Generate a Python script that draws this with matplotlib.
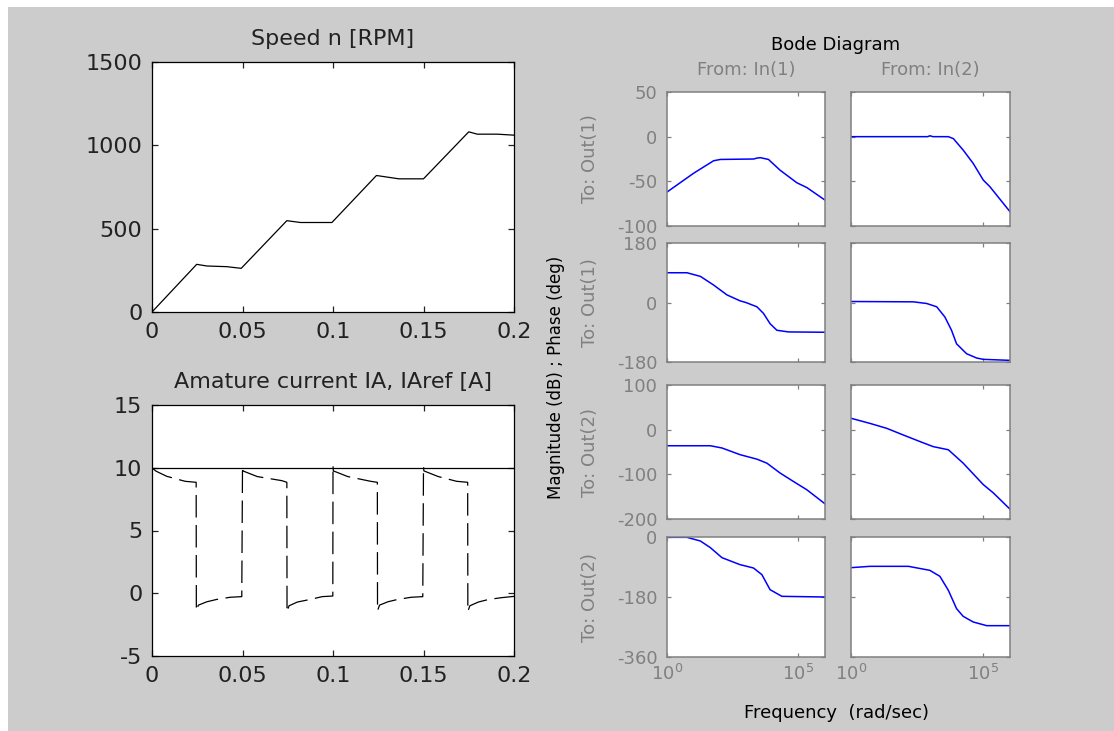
import numpy as np
import matplotlib
matplotlib.use("Agg")
import matplotlib.pyplot as plt
from matplotlib.patches import Rectangle

plt.rcParams['font.family'] = ['DejaVu Sans']
plt.rcParams['mathtext.fontset'] = 'dejavusans'
plt.rcParams['axes.unicode_minus'] = False

# ---------------- data ----------------
# Speed n [RPM]
t_speed = [0, 0.0247, 0.0303, 0.0413, 0.0493, 0.0745, 0.082, 0.0994,
           0.124, 0.1364, 0.15, 0.175, 0.1797, 0.1908, 0.2]
speed = [0, 286, 276, 272, 262, 548, 537, 537,
         819, 799, 799, 1081, 1067, 1067, 1061]

# Armature current IA (dashed) and reference IAref (solid)
t_ia = [0.0, 0.0022, 0.0081, 0.0183, 0.0244, 0.0245, 0.0256, 0.0303, 0.0358, 0.0432, 0.0496, 0.05,
        0.0502, 0.0581, 0.0718, 0.0745, 0.0746, 0.0757, 0.0803, 0.0875, 0.094, 0.0999, 0.1,
        0.1002, 0.1081, 0.1208, 0.1245, 0.1246, 0.1257, 0.1303, 0.1358, 0.1432, 0.1496, 0.15,
        0.1502, 0.1581, 0.1683, 0.1744, 0.1745, 0.1756, 0.1803, 0.1858, 0.1932, 0.2]
ia = [10.0, 9.73, 9.32, 8.92, 8.84, -1.4, -0.95, -0.68, -0.49, -0.32, -0.27, 10.1,
      9.75, 9.3, 8.97, 8.84, -1.5, -1.0, -0.7, -0.49, -0.27, -0.22, 10.2,
      9.75, 9.3, 8.92, 8.84, -1.4, -0.95, -0.68, -0.49, -0.32, -0.27, 10.1,
      9.75, 9.3, 8.92, 8.84, -1.45, -1.0, -0.7, -0.5, -0.35, -0.25]
t_iaref = [0.0, 0.2]
iaref = [10, 10]

# Bode diagram (frequency exponents log10(w) and values)
w_mag11 = [0, 1.01, 1.77, 2.03, 3.3, 3.42, 3.55, 3.86, 4.3, 4.94, 5.32, 6.01]
mag11 = [-62, -41, -27, -25.5, -25, -24, -23.5, -25.5, -37.5, -51.6, -57, -71]
w_mag12 = [0, 2.9, 2.98, 3.1, 3.68, 3.87, 4.24, 4.62, 5.0, 5.25, 6.01]
mag12 = [0, 0, 1, 0, 0, -2.2, -15, -30, -48.6, -56, -84]
w_ph11 = [0, 0.76, 1.27, 1.77, 2.28, 2.78, 3.0, 3.42, 3.67, 3.92, 4.18, 4.62, 6.01]
ph11 = [90, 90, 79, 53, 23, 5, 0, -13, -33, -64, -84, -89, -90]
w_ph12 = [0, 2.36, 2.86, 3.24, 3.55, 3.80, 3.99, 4.37, 4.75, 5.0, 6.01]
ph12 = [3, 2, -3, -13, -44, -84, -125, -155, -168, -172, -175]
w_mag21 = [0, 1.65, 2.09, 2.78, 3.42, 3.8, 4.3, 4.81, 5.32, 6.01]
mag21 = [-36, -36, -41, -56, -66, -75, -97, -116, -134.6, -166]
w_mag22 = [0, 0.72, 1.35, 1.98, 2.61, 3.11, 3.68, 4.24, 5.0, 5.38, 6.01]
mag22 = [25.5, 14, 3, -12, -26.7, -38, -45, -75, -123, -141.6, -178]
w_ph21 = [0, 0.76, 1.27, 1.65, 2.09, 2.78, 3.29, 3.61, 3.92, 4.37, 6.01]
ph21 = [-1, -1, -12, -32, -62, -83, -93, -113, -158, -178, -180]
w_ph22 = [0, 0.72, 2.17, 2.98, 3.36, 3.68, 3.99, 4.24, 4.62, 5.13, 6.01]
ph22 = [-92, -88, -88, -100, -118, -160, -215, -238, -255, -266, -266]

speed_yticks = [0, 500, 1000, 1500]
current_yticks = [-5, 0, 5, 10, 15]
time_ticks = [0, 0.05, 0.1, 0.15, 0.2]
time_ticklabels = ['0', '0.05', '0.1', '0.15', '0.2']
mag1_ticks = [-100, -50, 0, 50]
ph1_ticks = [-180, 0, 180]
mag2_ticks = [-200, -100, 0, 100]
ph2_ticks = [-360, -180, 0]
freq_ticks = [1, 1e5]
freq_ticklabels = [r'$10^{0}$', r'$10^{5}$']
col_titles = ['From: In(1)', 'From: In(2)']
row_labels = ['To: Out(1)', 'To: Out(1)', 'To: Out(2)', 'To: Out(2)']

# ---------------- figure ----------------
W, H = 1114, 731
fig = plt.figure(figsize=(W / 100, H / 100), dpi=100, facecolor='white')
fig.patches.append(Rectangle((8 / W, 0), 1 - 8 / W, 1 - 7 / H, transform=fig.transFigure,
                             facecolor='#cccccc', edgecolor='none', zorder=-10))


def px_axes(l, t, r, b):
    return fig.add_axes([l / W, 1 - b / H, (r - l) / W, (b - t) / H])


GRAY = '#808080'
TXT = '#222222'


def style_left(ax):
    for s in ax.spines.values():
        s.set_linewidth(0.9)
        s.set_color('black')
    ax.tick_params(direction='in', length=4, width=0.9, top=True, right=True,
                   labelsize=16, colors=TXT, pad=7)


# Speed plot
ax1 = px_axes(152, 62, 514, 312)
ax1.plot(t_speed, speed, color='black', lw=0.9)
ax1.set_xlim(0, 0.2)
ax1.set_ylim(0, 1500)
ax1.set_xticks(time_ticks)
ax1.set_xticklabels(time_ticklabels)
ax1.set_yticks(speed_yticks)
style_left(ax1)
ax1.set_title('Speed n [RPM]', fontsize=16, pad=12, color=TXT)

# Current plot
ax2 = px_axes(152, 405, 514, 656)
ax2.plot(t_iaref, iaref, color='black', lw=0.9)
ax2.plot(t_ia, ia, color='black', lw=0.9, dashes=(18, 6))
ax2.set_xlim(0, 0.2)
ax2.set_ylim(-5, 15)
ax2.set_xticks(time_ticks)
ax2.set_xticklabels(time_ticklabels)
ax2.set_yticks(current_yticks)
style_left(ax2)
ax2.set_title('Amature current IA, IAref [A]', fontsize=16, pad=12, color=TXT)

# Bode panels
cols = [(667, 825), (851, 1010)]
rows = [(92, 226), (243, 362), (385, 519), (537, 657)]
panels = [
    [(w_mag11, mag11), (w_mag12, mag12)],
    [(w_ph11, ph11), (w_ph12, ph12)],
    [(w_mag21, mag21), (w_mag22, mag22)],
    [(w_ph21, ph21), (w_ph22, ph22)],
]
ylims = [(-100, 50), (-180, 180), (-200, 100), (-360, 0)]
yticks = [mag1_ticks, ph1_ticks, mag2_ticks, ph2_ticks]

for ri, (rt, rb) in enumerate(rows):
    for ci, (cl, cr) in enumerate(cols):
        ax = px_axes(cl, rt, cr, rb)
        w, v = panels[ri][ci]
        ax.plot(np.power(10.0, w), v, color='blue', lw=1.1)
        ax.set_xscale('log')
        ax.set_xlim(1, 10 ** 6.01)
        ax.set_ylim(*ylims[ri])
        ax.set_xticks(freq_ticks)
        ax.xaxis.set_minor_locator(matplotlib.ticker.NullLocator())
        ax.set_yticks(yticks[ri])
        for s in ax.spines.values():
            s.set_linewidth(1.1)
            s.set_color(GRAY)
        ax.tick_params(direction='in', length=3, width=0.9, top=True, right=True,
                       colors=GRAY, labelsize=13, pad=7)
        ax.tick_params(axis='x', pad=5)
        if ri == 3:
            ax.set_xticklabels(freq_ticklabels)
        else:
            ax.set_xticklabels([])
        if ci == 1:
            ax.set_yticklabels([])

for ci, (cl, cr) in enumerate(cols):
    fig.text((cl + cr) / 2 / W, 1 - 70 / H, col_titles[ci], color=GRAY, fontsize=13,
             ha='center', va='center')
for ri, (rt, rb) in enumerate(rows):
    fig.text(590 / W, 1 - (rt + rb) / 2 / H, row_labels[ri], color=GRAY, fontsize=13,
             rotation=90, ha='center', va='center')

fig.text(836 / W, 1 - 45 / H, 'Bode Diagram', color='black', fontsize=13,
         ha='center', va='center')
fig.text(556 / W, 1 - 377 / H, 'Magnitude (dB) ; Phase (deg)', color='black', fontsize=12,
         rotation=90, ha='center', va='center')
fig.text(836 / W, 1 - 713 / H, 'Frequency  (rad/sec)', color='black', fontsize=13,
         ha='center', va='center')

fig.savefig('out.png', dpi=100, facecolor=fig.get_facecolor())
